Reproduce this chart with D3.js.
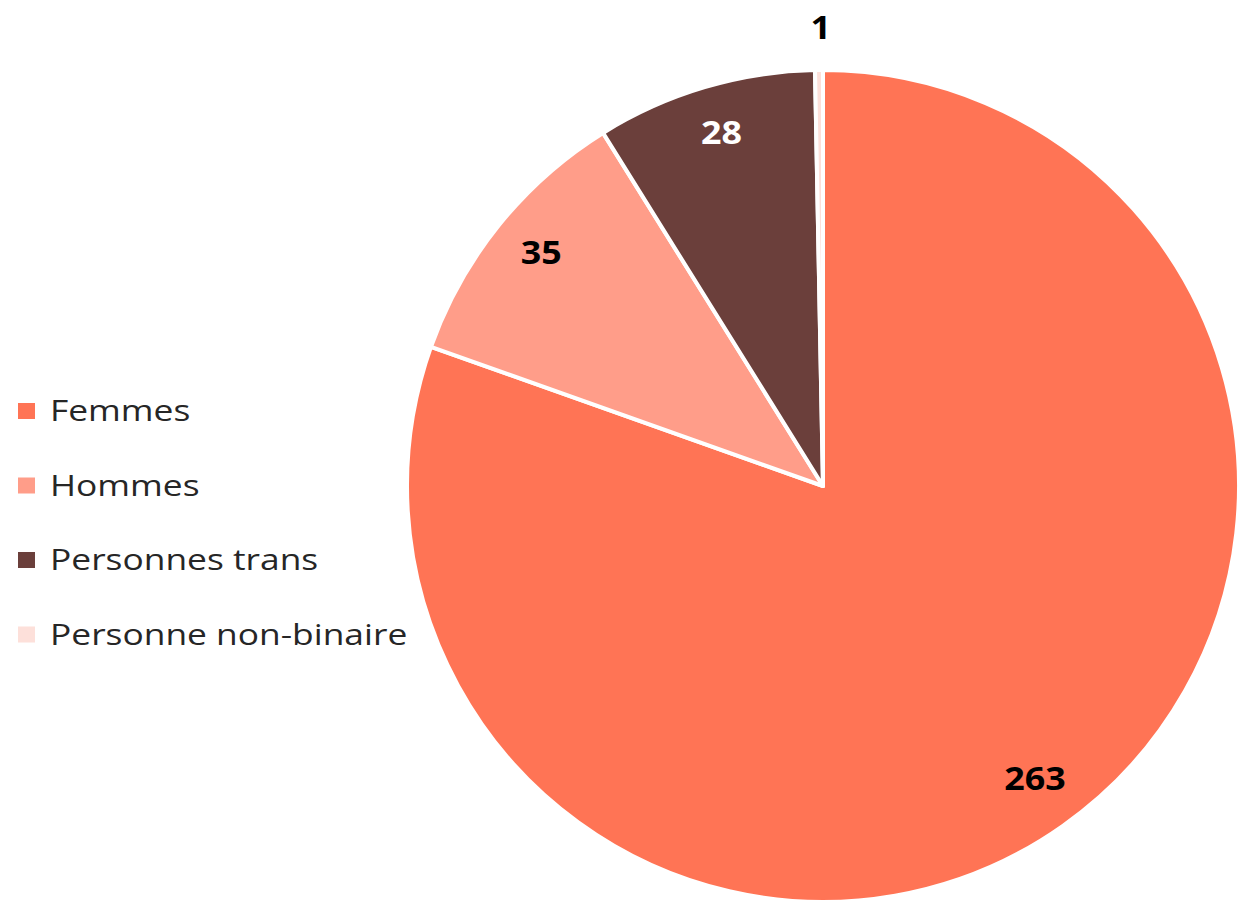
<!DOCTYPE html>
<html lang="fr">
	<head>
		<meta charset="utf-8">
		<title>Répartition</title>
		<script type="text/javascript" src="https://cdn.jsdelivr.net/npm/d3@7"></script>
		<style type="text/css">
			body { margin: 0; background: #fff; }
			text { font-family: "Open Sans", Lato, sans-serif; }
		</style>
	</head>
	<body>
		<script type="text/javascript">

			//Data
			var categories = ["Femmes", "Hommes", "Personnes trans", "Personne non-binaire"];
			var values = [263, 35, 28, 1];
			var colors = ["#FF7455", "#FF9D89", "#6B3F3B", "#FDE0DA"];
			var labelColors = ["#000", "#000", "#fff", "#000"];

			var w = 1238;
			var h = 901;
			var cx = 823, cy = 486, r = 416;

			var svg = d3.select("body")
						.append("svg")
						.attr("width", w)
						.attr("height", h);

			var pie = d3.pie().sort(null).value(function(d) { return d; });
			var arcs = pie(values);

			var arc = d3.arc().innerRadius(0).outerRadius(r);
			var labelArc = d3.arc().innerRadius(r * 0.875).outerRadius(r * 0.875);
			var outerArc = d3.arc().innerRadius(r + 38).outerRadius(r + 38);

			var g = svg.append("g").attr("transform", "translate(" + cx + "," + cy + ")");

			g.selectAll("path")
			 .data(arcs)
			 .enter()
			 .append("path")
			 .attr("d", arc)
			 .style("fill", function(d, i) { return colors[i]; })
			 .style("stroke", "#fff")
			 .style("stroke-width", 4)
			 .style("stroke-linejoin", "round");

			//Data labels; the tiny slice gets its label outside
			g.selectAll("text.lbl")
			 .data(arcs)
			 .enter()
			 .append("text")
			 .attr("class", "lbl")
			 .attr("transform", function(d, i) {
			 	var p = (i === 3) ? outerArc.centroid(d) : labelArc.centroid(d);
			 	return "translate(" + (p[0] + 2) + "," + (p[1] - 5) + ") scale(1.12,1)";
			 })
			 .attr("text-anchor", "middle")
			 .attr("dy", "0.36em")
			 .style("font-size", "32px")
			 .style("font-weight", "bold")
			 .style("fill", function(d, i) { return labelColors[i]; })
			 .text(function(d) { return d.data; });

			//Legend
			var legend = svg.selectAll("g.leg")
							.data(categories)
							.enter()
							.append("g")
							.attr("class", "leg")
							.attr("transform", function(d, i) { return "translate(18," + (411 + i * 74.5) + ")"; });

			legend.append("rect")
				  .attr("x", 0)
				  .attr("y", -8)
				  .attr("width", 17)
				  .attr("height", 16)
				  .style("fill", function(d, i) { return colors[i]; });

			legend.append("text")
				  .attr("transform", "translate(32,0) scale(1.22,1)")
				  .attr("dy", "0.36em")
				  .style("font-size", "29px")
				  .style("fill", "#262626")
				  .text(function(d) { return d; });

		</script>
	</body>
</html>
